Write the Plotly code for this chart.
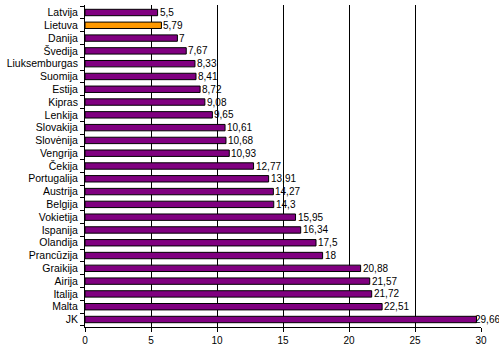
import plotly.graph_objects as go

countries = ["Latvija", "Lietuva", "Danija", "Švedija", "Liuksemburgas", "Suomija", "Estija",
             "Kipras", "Lenkija", "Slovakija", "Slovėnija", "Vengrija", "Čekija", "Portugalija",
             "Austrija", "Belgija", "Vokietija", "Ispanija", "Olandija", "Prancūzija", "Graikija",
             "Airija", "Italija", "Malta", "JK"]
values = [5.5, 5.79, 7, 7.67, 8.33, 8.41, 8.72, 9.08, 9.65, 10.61, 10.68, 10.93, 12.77, 13.91,
          14.27, 14.3, 15.95, 16.34, 17.5, 18, 20.88, 21.57, 21.72, 22.51, 29.66]
highlight = "Lietuva"
x_ticks = [0, 5, 10, 15, 20, 25, 30]

colors = ["#FF9900" if c == highlight else "#800080" for c in countries]
labels = [("%g" % v).replace(".", ",") for v in values]

fig = go.Figure()
fig.add_trace(go.Bar(
    x=values, y=countries, orientation="h",
    marker=dict(color=colors, line=dict(color="black", width=1)),
    width=0.5, hoverinfo="skip",
))

xmax = x_ticks[-1]
for c, v, t in zip(countries, values, labels):
    fig.add_annotation(
        x=v, y=c, text=t, showarrow=False, xanchor="left", yanchor="middle",
        xshift=-4 if v > xmax - 1 else 0,
        font=dict(size=10, color="black", family="Liberation Sans"),
    )

fig.update_layout(
    width=499, height=357,
    margin=dict(l=85, r=18, t=5, b=30),
    paper_bgcolor="white", plot_bgcolor="white",
    font=dict(family="Liberation Sans", size=10.5, color="black"),
    showlegend=False, hovermode=False,
    xaxis=dict(range=[0, 30], tickvals=x_ticks, showgrid=True, gridcolor="black", gridwidth=1,
               zeroline=False, showline=True, linecolor="black", linewidth=1,
               ticks="outside", ticklen=4, tickcolor="black", automargin=False,
               tickfont=dict(size=10)),
    yaxis=dict(autorange="reversed", showline=True, linecolor="black", linewidth=1,
               tickmode="array", tickvals=countries,
               ticks="outside", ticklen=4, tickcolor="black", tickson="boundaries",
               ticklabelstandoff=4,
               showgrid=False, automargin=False),
)

fig.write_html("out.html", config={"displayModeBar": False},
               post_script="document.body.style.margin='0';")
